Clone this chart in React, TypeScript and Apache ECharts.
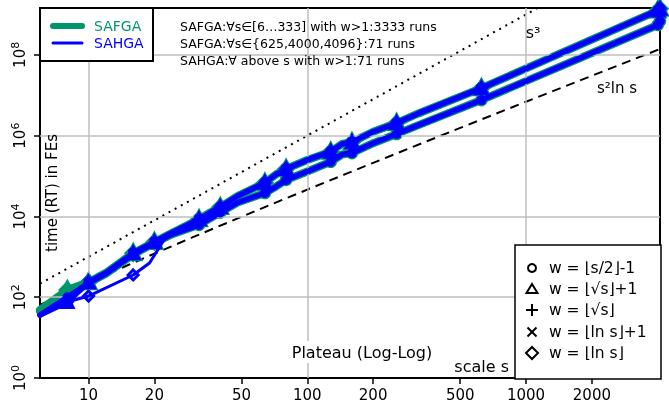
import React, { useEffect, useRef } from "react";
import * as echarts from "echarts";

// scale s values of the runs
const sValues = [6, 8, 10, 12, 16, 20, 24, 32, 36, 40, 48, 64, 72, 80, 100, 128, 144, 160, 200, 256, 320, 625, 4000, 4096];
// SAFGA, w = sqrt / ln variants (upper band)
const safgaUpper = [48, 150, 235, 400, 1230, 2340, 3900, 8500, 12500, 17000, 32000, 68000, 110000, 150000, 250000, 400000, 620000, 690000, 1250000, 2050000, 3500000, 15000000, 1.25e9, 1.38e9];
// SAFGA, w = floor(s/2)-1 (lower band)
const safgaLower = [45, 100, 225, 380, 1150, 2200, 3600, 6200, 9000, 12500, 22000, 38000, 55000, 80000, 130000, 225000, 340000, 370000, 650000, 1100000, 1800000, 7600000, 5.5e8, 6.9e8];
// SAHGA
const sahgaUpper = [36, 76, 235, 400, 1230, 2340, 3900, 8500, 12500, 17000, 32000, 68000, 110000, 150000, 250000, 400000, 620000, 690000, 1250000, 2050000, 3500000, 15000000, 1.25e9, 1.38e9];
const sahgaLower = [36, 100, 225, 380, 1150, 2200, 3600, 6200, 9000, 12500, 22000, 38000, 55000, 80000, 130000, 225000, 340000, 370000, 650000, 1100000, 1800000, 7600000, 5.5e8, 6.9e8];
const sLnValues = [6, 8, 10, 16, 19, 22, 24, 32, 36, 40, 48, 64, 72, 80, 100, 128, 144, 160, 200, 256, 320, 625, 4000, 4096];
const sahgaLn = [36, 76, 107, 355, 700, 2500, 3900, 8500, 12500, 17000, 32000, 68000, 110000, 150000, 250000, 400000, 620000, 690000, 1250000, 2050000, 3500000, 15000000, 1.25e9, 1.38e9];
// s values that carry a marker
const markerS = [8, 10, 16, 20, 32, 40, 64, 80, 128, 160, 256, 625, 4000, 4096];
// reference curves sample points
const refS = [6, 8, 10, 15, 20, 30, 50, 70, 100, 150, 200, 300, 500, 700, 1000, 1500, 2000, 3000, 4096];

const xTicks = [10, 20, 50, 100, 200, 500, 1000, 2000];
const yTicks = [0, 2, 4, 6, 8];
const xGrid = [10, 100, 1000];
const yGrid = [2, 4, 6, 8];

const legendItems = ["w = ⌊s/2⌋-1", "w = ⌊√s⌋+1", "w = ⌊√s⌋", "w = ⌊ln s⌋+1", "w = ⌊ln s⌋"];
const notes = [
  "SAFGA:∀s∈[6…333] with w>1:3333 runs",
  "SAFGA:∀s∈{625,4000,4096}:71 runs",
  "SAHGA:∀ above s with w>1:71 runs",
];

const GREEN = "#00966b";
const BLUE = "#0000ff";
const FONT = '"DejaVu Sans", "Liberation Sans", Arial, sans-serif';

const L = Math.log10;
const pts = (s: number[], t: number[]) => s.map((v, i) => [L(v), L(t[i])]);
const mpts = (s: number[], t: number[]) =>
  s.map((v, i) => [v, t[i]]).filter((p) => markerS.includes(p[0])).map((p) => [L(p[0]), L(p[1])]);

const PLUS = "path://M5,0L5,10M0,5L10,5";
const CROSS = "path://M0,0L10,10M10,0L0,10";

export default function App() {
  const ref = useRef<HTMLDivElement>(null);
  useEffect(() => {
    if (!ref.current) return;
    const chart = echarts.init(ref.current, undefined, { renderer: "svg" });

    const lineS = (name: string, data: number[][], color: string, width: number, z: number) => ({
      name,
      type: "line",
      data,
      showSymbol: false,
      symbol: "none",
      z,
      lineStyle: { color, width, cap: "round", join: "round" },
      silent: true,
    });
    const markS = (name: string, data: number[][], symbol: string, size: number, color: string, bw: number, z: number) => ({
      name,
      type: "scatter",
      data,
      symbol,
      symbolSize: size,
      z,
      silent: true,
      itemStyle: { color: "transparent", borderColor: color, borderWidth: bw, opacity: 1 },
    });

    const series: any[] = [
      {
        type: "line",
        data: [],
        z: 0,
        silent: true,
        markLine: {
          silent: true,
          symbol: "none",
          label: { show: false },
          lineStyle: { color: "#bebebe", width: 1.5, type: "solid" },
          data: [...xGrid.map((v) => ({ xAxis: L(v) })), ...yGrid.map((v) => ({ yAxis: v }))],
        },
      },
      {
        type: "line",
        data: refS.map((s) => [L(s), L(s * s * s)]),
        showSymbol: false,
        z: 2,
        silent: true,
        lineStyle: { color: "#000", width: 2, type: [2, 5] },
      },
      {
        type: "line",
        data: refS.map((s) => [L(s), L(s * s * Math.log(s))]),
        showSymbol: false,
        z: 2,
        silent: true,
        lineStyle: { color: "#000", width: 2, type: [9, 6] },
      },
      lineS("SAFGA lower", pts(sValues, safgaLower), GREEN, 8, 3),
      lineS("SAFGA upper", pts(sValues, safgaUpper), GREEN, 8, 3),
      markS("SAFGA o", mpts(sValues, safgaLower), "circle", 7, GREEN, 5.5, 4),
      markS("SAFGA tri", mpts(sValues, safgaUpper), "triangle", 10, GREEN, 6, 4),
      markS("SAFGA plus", mpts(sValues, safgaUpper), PLUS, 10, GREEN, 6, 4),
      markS("SAFGA x", mpts(sValues, safgaUpper), CROSS, 8, GREEN, 6, 4),
      markS("SAFGA dia", mpts(sValues, safgaUpper), "diamond", 10, GREEN, 6, 4),
      lineS("SAHGA lower", pts(sValues, sahgaLower), BLUE, 5.5, 5),
      lineS("SAHGA upper", pts(sValues, sahgaUpper), BLUE, 5.5, 5),
      lineS("SAHGA ln", pts(sLnValues, sahgaLn), BLUE, 3, 5),
      markS("SAHGA o", mpts(sValues, sahgaLower), "circle", 7, BLUE, 3, 6),
      markS("SAHGA tri", mpts(sValues, sahgaUpper), "triangle", 10, BLUE, 4, 6),
      markS("SAHGA plus", mpts(sValues, sahgaUpper), PLUS, 10, BLUE, 4, 6),
      markS("SAHGA x", mpts(sValues, sahgaUpper), CROSS, 8, BLUE, 4, 6),
      markS("SAHGA dia", mpts(sLnValues, sahgaLn), "diamond", 10, BLUE, 3, 6),
    ];

    const legendY = [268, 289, 310, 332, 353];
    const lx = 532;
    const graphics: any[] = [
      // white background behind notes (hides gridlines)
      { type: "rect", z: 1, shape: { x: 154, y: 9, width: 291, height: 67 }, style: { fill: "#fff" } },
      ...notes.map((t, i) => ({
        type: "text",
        z: 50,
        style: { text: t, x: 180, y: 26 + i * 17, fill: "#000", font: `12.5px ${FONT}`, textVerticalAlign: "middle" },
      })),
      // top-left legend
      { type: "rect", z: 100, shape: { x: 40, y: 8, width: 113, height: 53 }, style: { fill: "#fff", stroke: "#000", lineWidth: 2 } },
      { type: "line", z: 101, shape: { x1: 53, y1: 26, x2: 82, y2: 26 }, style: { stroke: GREEN, lineWidth: 6, lineCap: "round" } },
      { type: "line", z: 101, shape: { x1: 53, y1: 43, x2: 82, y2: 43 }, style: { stroke: BLUE, lineWidth: 3, lineCap: "round" } },
      { type: "text", z: 101, style: { text: "SAFGA", x: 94, y: 26, fill: GREEN, font: `14px ${FONT}`, textVerticalAlign: "middle" } },
      { type: "text", z: 101, style: { text: "SAHGA", x: 94, y: 43, fill: BLUE, font: `14px ${FONT}`, textVerticalAlign: "middle" } },
      // curve labels
      { type: "text", z: 50, style: { text: "s³", x: 533, y: 32, fill: "#000", font: `16px ${FONT}`, textAlign: "center", textVerticalAlign: "middle" } },
      { type: "text", z: 50, style: { text: "s²ln s", x: 617, y: 88, fill: "#000", font: `15px ${FONT}`, textAlign: "center", textVerticalAlign: "middle" } },
      // axis titles inside the plot
      {
        type: "text",
        z: 50,
        x: 52,
        y: 193,
        rotation: Math.PI / 2,
        style: { text: "time (RT) in FEs", x: 0, y: 0, fill: "#000", font: `15px ${FONT}`, textAlign: "center", textVerticalAlign: "middle" },
      },
      {
        type: "text",
        z: 50,
        style: {
          text: "Plateau (Log-Log)",
          x: 362,
          y: 352,
          fill: "#000",
          font: `16px ${FONT}`,
          textAlign: "center",
          textVerticalAlign: "middle",
          backgroundColor: "#fff",
          padding: [3, 2],
        },
      },
      { type: "text", z: 50, style: { text: "scale s", x: 509, y: 366, fill: "#000", font: `16px ${FONT}`, textAlign: "right", textVerticalAlign: "middle" } },
      // bottom-right legend
      { type: "rect", z: 100, shape: { x: 515, y: 245, width: 146, height: 134 }, style: { fill: "#fff", stroke: "#000", lineWidth: 1.5 } },
      { type: "circle", z: 101, shape: { cx: lx, cy: legendY[0], r: 4 }, style: { fill: "none", stroke: "#000", lineWidth: 2 } },
      {
        type: "polygon",
        z: 101,
        shape: { points: [[lx, legendY[1] - 5], [lx + 5.5, legendY[1] + 4], [lx - 5.5, legendY[1] + 4]] },
        style: { fill: "none", stroke: "#000", lineWidth: 2 },
      },
      { type: "line", z: 101, shape: { x1: lx - 6, y1: legendY[2], x2: lx + 6, y2: legendY[2] }, style: { stroke: "#000", lineWidth: 2 } },
      { type: "line", z: 101, shape: { x1: lx, y1: legendY[2] - 6, x2: lx, y2: legendY[2] + 6 }, style: { stroke: "#000", lineWidth: 2 } },
      { type: "line", z: 101, shape: { x1: lx - 4.5, y1: legendY[3] - 4.5, x2: lx + 4.5, y2: legendY[3] + 4.5 }, style: { stroke: "#000", lineWidth: 2 } },
      { type: "line", z: 101, shape: { x1: lx + 4.5, y1: legendY[3] - 4.5, x2: lx - 4.5, y2: legendY[3] + 4.5 }, style: { stroke: "#000", lineWidth: 2 } },
      {
        type: "polygon",
        z: 101,
        shape: { points: [[lx, legendY[4] - 6], [lx + 6, legendY[4]], [lx, legendY[4] + 6], [lx - 6, legendY[4]]] },
        style: { fill: "none", stroke: "#000", lineWidth: 2 },
      },
      ...legendItems.map((t, i) => ({
        type: "text",
        z: 101,
        style: { text: t, x: 549, y: legendY[i], fill: "#000", font: `15.5px ${FONT}`, textVerticalAlign: "middle" },
      })),
    ];

    chart.setOption({
      animation: false,
      grid: { left: 40, right: 9, top: 8, bottom: 34, show: true, borderColor: "#000", borderWidth: 2, backgroundColor: "transparent" },
      xAxis: {
        type: "value",
        min: L(6),
        max: L(4096),
        axisLine: { show: false },
        splitLine: { show: false },
        axisTick: { show: true, length: 6, customValues: xTicks.map(L), lineStyle: { color: "#000", width: 1.5 } },
        axisLabel: {
          customValues: xTicks.map(L),
          formatter: (v: number) => String(Math.round(Math.pow(10, v))),
          fontSize: 15,
          fontFamily: FONT,
          color: "#000",
          margin: 9,
        },
      },
      yAxis: {
        type: "value",
        min: 0,
        max: 9.16,
        axisLine: { show: false },
        splitLine: { show: false },
        axisTick: { show: true, length: 6, customValues: yTicks, lineStyle: { color: "#000", width: 1.5 } },
        axisLabel: {
          customValues: yTicks,
          rotate: 90,
          margin: 10,
          color: "#000",
          formatter: (v: number) => `{b|10}{s|${v}}`,
          rich: {
            b: { fontSize: 15, fontFamily: FONT, color: "#000", lineHeight: 20 },
            s: { fontSize: 11, fontFamily: FONT, color: "#000", verticalAlign: "top", lineHeight: 20 },
          },
        },
      },
      series,
      graphic: graphics,
    });
    return () => chart.dispose();
  }, []);
  return <div ref={ref} style={{ position: "fixed", left: 0, top: 0, width: 669, height: 412 }} />;
}
